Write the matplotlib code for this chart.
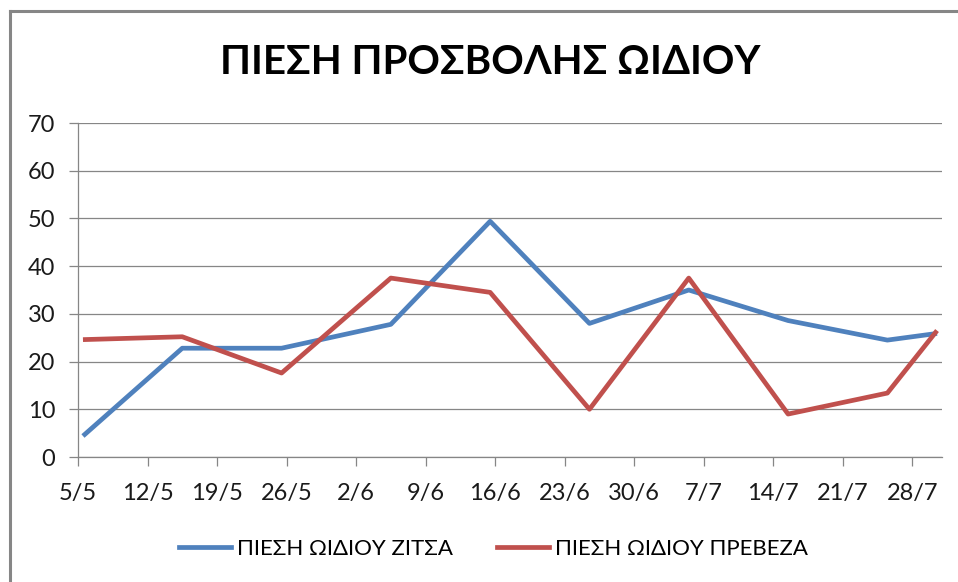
import datetime as dt

import matplotlib
matplotlib.use("Agg")
import matplotlib.pyplot as plt
import matplotlib.dates as mdates
from matplotlib.lines import Line2D

plt.rcParams['font.family'] = ['Lato', 'DejaVu Sans']

# μετρήσεις (ημερομηνίες 5, 15, 25 κάθε μήνα + 30/7)
dates = ["2013-05-05", "2013-05-15", "2013-05-25", "2013-06-05", "2013-06-15",
         "2013-06-25", "2013-07-05", "2013-07-15", "2013-07-25", "2013-07-30"]
zitsa = [4.4, 22.8, 22.8, 27.8, 49.4, 28.0, 35.0, 28.6, 24.5, 25.9]
preveza = [24.6, 25.2, 17.6, 37.5, 34.5, 10.0, 37.5, 9.0, 13.4, 26.5]

title = "ΠΙΕΣΗ ΠΡΟΣΒΟΛΗΣ ΩΙΔΙΟΥ"
label_zitsa = "ΠΙΕΣΗ ΩΙΔΙΟΥ ΖΙΤΣΑ"
label_preveza = "ΠΙΕΣΗ ΩΙΔΙΟΥ ΠΡΕΒΕΖΑ"

BLUE = "#4F81BD"
RED = "#C0504D"
GRID = "#868686"

# excel βάζει τα σημεία στη μέση της ημέρας
x = [dt.datetime.fromisoformat(d) + dt.timedelta(hours=12) for d in dates]

fig = plt.figure(figsize=(9.58, 5.82), dpi=100)
ax = fig.add_axes([78 / 958, 1 - 457 / 582, 864 / 958, 334 / 582])

ax.plot(x, zitsa, color=BLUE, lw=3.4, solid_capstyle='butt', zorder=3)
ax.plot(x, preveza, color=RED, lw=3.4, solid_capstyle='butt', zorder=3)

ax.set_ylim(0, 70)
ax.set_yticks(range(0, 71, 10))
ax.set_xlim(dt.datetime(2013, 5, 5), dt.datetime(2013, 7, 31))
ax.set_xticks([dt.datetime(2013, 5, 5) + dt.timedelta(days=7 * i) for i in range(13)])
ax.xaxis.set_major_formatter(mdates.DateFormatter('%-d/%-m'))

ax.grid(axis='y', color=GRID, lw=0.9)
ax.set_axisbelow(True)
for s in ['top', 'right']:
    ax.spines[s].set_visible(False)
for s in ['left', 'bottom']:
    ax.spines[s].set_color(GRID)
    ax.spines[s].set_linewidth(0.9)
ax.tick_params(axis='both', colors=GRID, length=6.5, width=0.9, labelcolor='#1a1a1a',
               labelsize=17)
ax.tick_params(axis='y', pad=10)
ax.tick_params(axis='x', pad=12)

fig.text(0.512, 1 - 62 / 582, title, ha='center', va='center', fontsize=29,
         fontweight='bold', color='black')

handles = [Line2D([], [], color=BLUE, lw=3.4), Line2D([], [], color=RED, lw=3.4)]
fig.legend(handles, [label_zitsa, label_preveza], loc='center',
           bbox_to_anchor=(0.515, 1 - 549 / 582), ncol=2, frameon=False,
           fontsize=16, handlelength=2.35, handletextpad=0.25, columnspacing=2.0)

# περίγραμμα γραφήματος (αριστερά και πάνω)
fig.add_artist(Line2D([9.5 / 958, 9.5 / 958], [0, 1 - 11 / 582], color=GRID, lw=2.2,
                      transform=fig.transFigure))
fig.add_artist(Line2D([9.5 / 958, 1], [1 - 11 / 582, 1 - 11 / 582], color=GRID, lw=2.2,
                      transform=fig.transFigure))

fig.savefig("out.png", dpi=100)
